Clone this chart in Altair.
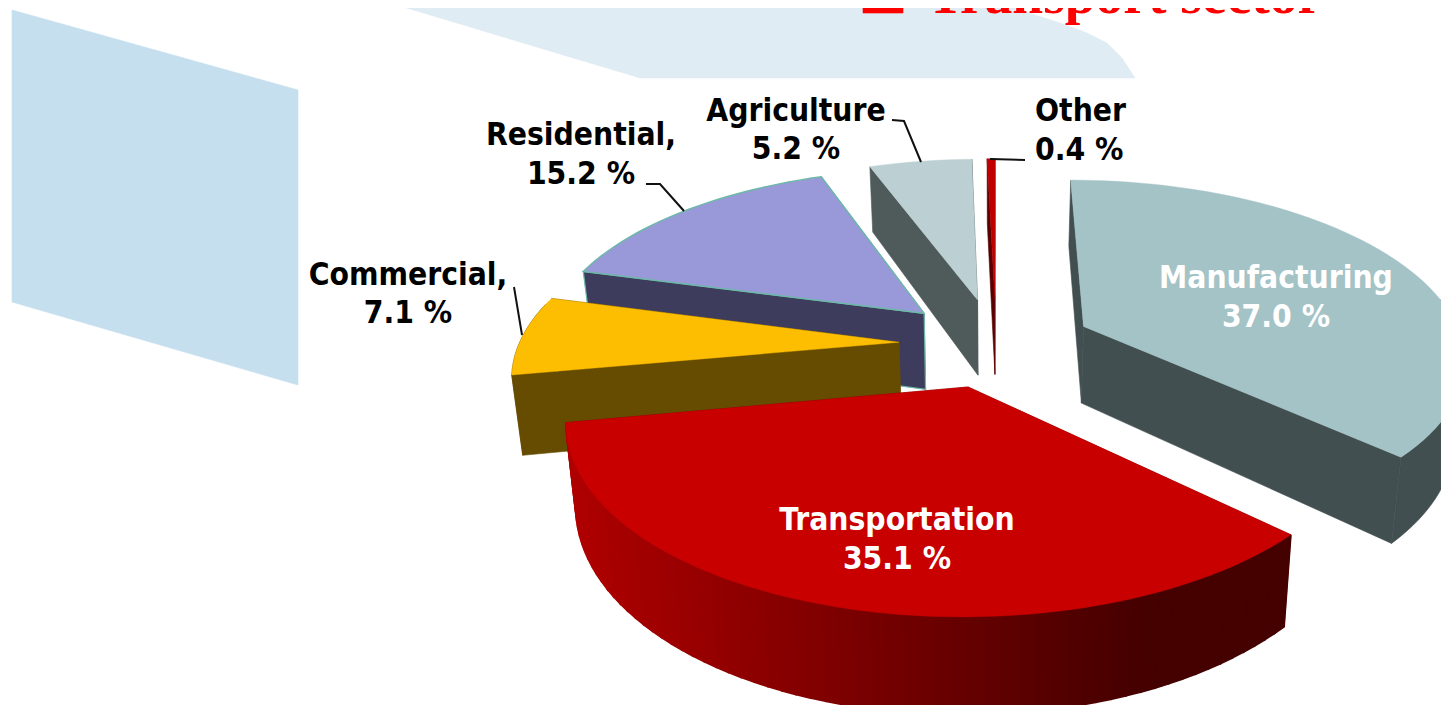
import math
import altair as alt
import pandas as pd

# --- values
categories = ["Manufacturing", "Transportation", "Commercial", "Residential", "Agriculture", "Other"]
shares = [37.0, 35.1, 7.1, 15.2, 5.2, 0.4]
top_colors = ["#A3C3C6", "#C80000", "#FDBD00", "#9999D9", "#BCCFD2", "#C00000"]
side_colors = ["#414F50", "#8A0000", "#664C00", "#3E3C5C", "#4F5A5A", "#5A0000"]
edge_colors = {"Residential": "#6DB8A8"}
explode = {"Manufacturing": 0.27, "Transportation": 0.25, "Commercial": 0.24, "Residential": 0.23, "Agriculture": 0.24, "Other": 0.24}
nudge = {"Manufacturing": (1, 5), "Transportation": (6, 3), "Commercial": (0, 4), "Residential": (-3, 0), "Agriculture": (4, 0), "Other": (6, 0)}
draw_order = ["Other", "Agriculture", "Manufacturing", "Residential", "Commercial", "Transportation"]

title_text = "Transport sector"

# --- view of the tilted pie: plane to page
CX, CY, RX, RY, PERSP, DEPTH, SHRINK = 990, 340, 380, 176, 0.164, 78, 0.977


def project(px, py, bottom=False, shift=(0, 0)):
    w = 1 + PERSP * py
    sx = CX + RX * px / w
    sy = CY - RY * py / w
    if bottom:
        sx = CX + (sx - CX) * SHRINK
        sy = sy + DEPTH / w
    return sx + shift[0], sy + shift[1]


# angles come from the shares
spans = {}
a = 0.0
for c, s in zip(categories, shares):
    spans[c] = (a, a + s * 3.6)
    a += s * 3.6

rows = []
pid = 0


def add_poly(pts, fill, stroke=None, width=0.6):
    global pid
    pid += 1
    pts = list(pts) + [pts[0]]
    for i, (x, y) in enumerate(pts):
        rows.append({"x": x, "y": y, "i": i, "pid": f"{pid:05d}", "fill": fill, "stroke": stroke or fill, "sw": width})


def lerp_hex(a, b, t):
    ca = [int(a[i:i + 2], 16) for i in (1, 3, 5)]
    cb = [int(b[i:i + 2], 16) for i in (1, 3, 5)]
    return "#" + "".join(f"{round(p + (q - p) * t):02X}" for p, q in zip(ca, cb))


# decoration behind the pie
add_poly([(12, 10), (298, 90), (298, 385), (12, 302)], "#C5DFEF")
add_poly([(380, 0), (640, 78), (1135, 78), (1122, 58), (1107, 43), (1085, 32), (1057, 22), (1020, 10), (1007, 0)], "#E0ECF4")
add_poly([(863, 0), (903, 0), (903, 13), (863, 13)], "#FF0000")

for name in draw_order:
    k = categories.index(name)
    a0, a1 = spans[name]
    mid = math.radians((a0 + a1) / 2)
    ox, oy = explode[name] * math.sin(mid), explode[name] * math.cos(mid)
    sh = nudge[name]
    n = max(4, int((a1 - a0) / 2))
    rim = []
    angles = []
    for j in range(n + 1):
        th = a0 + (a1 - a0) * j / n
        angles.append(th)
        rim.append((ox + math.sin(math.radians(th)), oy + math.cos(math.radians(th))))
    tip = (ox, oy)
    side = side_colors[k]
    edge = edge_colors.get(name)

    def P(p, bottom=False):
        return project(p[0], p[1], bottom, sh)

    # radial walls
    for p, st in ((rim[-1], None), (rim[0], edge)):
        add_poly([P(tip), P(p), P(p, True), P(tip, True)], side, st, 1.2 if st else 0.6)
    # outer rim: only the part that faces the viewer
    front = [j for j in range(n + 1) if 80 <= angles[j] <= 285]
    if name == "Transportation":
        # shaded in vertical bands, darker to the right
        for j in front[:-1]:
            p, q = rim[j], rim[j + 1]
            xc = P(p)[0]
            t = min(1.0, max(0.0, (1150 - xc) / 580))
            add_poly([P(p), P(q), P(q, True), P(p, True)], lerp_hex("#450000", "#AF0000", t), None, 1.6)
    elif len(front) > 1:
        top_edge = [P(rim[j]) for j in front]
        low_edge = [P(rim[j], True) for j in reversed(front)]
        add_poly(top_edge + low_edge, side)
    # top face
    add_poly([P(tip)] + [P(p) for p in rim], top_colors[k], edge, 1.5 if edge else 0.4)

polys = pd.DataFrame(rows)

leaders = [
    [(892, 120), (904, 121), (921, 162)],
    [(646, 184), (660, 184), (684, 211)],
    [(514, 287), (522, 335)],
    [(1025, 160), (990, 159)],
]
leader_rows = [{"x": x, "y": y, "i": i, "g": f"{g}"} for g, pts in enumerate(leaders) for i, (x, y) in enumerate(pts)]

labels = [
    ("Agriculture", 796, 121, "center", "#000000"),
    ("5.2 %", 796, 159, "center", "#000000"),
    ("Residential,", 581, 145, "center", "#000000"),
    ("15.2 %", 581, 184, "center", "#000000"),
    ("Commercial,", 408, 285, "center", "#000000"),
    ("7.1 %", 408, 323, "center", "#000000"),
    ("Other", 1035, 121, "left", "#000000"),
    ("0.4 %", 1035, 160, "left", "#000000"),
    ("Manufacturing", 1276, 288, "center", "#FFFFFF"),
    ("37.0 %", 1276, 327, "center", "#FFFFFF"),
    ("Transportation", 897, 530, "center", "#FFFFFF"),
    ("35.1 %", 897, 569, "center", "#FFFFFF"),
]
label_df = pd.DataFrame(labels, columns=["text", "x", "y", "align", "color"])

xs = alt.Scale(domain=[8, 1441], range=[0, 1433])
ys = alt.Scale(domain=[8, 705], range=[0, 697])
X = alt.X("x:Q", scale=xs, axis=None)
Y = alt.Y("y:Q", scale=ys, axis=None)

poly_layer = alt.Chart(polys).mark_line(filled=True, interpolate="linear", clip=True).encode(
    x=X, y=Y, detail="pid:N", order="i:Q",
    fill=alt.Fill("fill:N", scale=None),
    stroke=alt.Stroke("stroke:N", scale=None),
    strokeWidth=alt.StrokeWidth("sw:Q", scale=None),
)
leader_layer = alt.Chart(pd.DataFrame(leader_rows)).mark_line(color="#111111", strokeWidth=2).encode(
    x=X, y=Y, detail="g:N", order="i:Q"
)


def text_layer(align):
    d = label_df[label_df["align"] == align]
    return alt.Chart(d).mark_text(align=align, baseline="alphabetic", font="DejaVu Sans Condensed", fontWeight="bold", fontSize=31.5).encode(
        x=X, y=Y, text="text:N", color=alt.Color("color:N", scale=None)
    )


title_layer = alt.Chart(pd.DataFrame([{"text": title_text, "x": 927, "y": 13}])).mark_text(
    align="left", baseline="alphabetic", font="Liberation Serif", fontWeight="bold", fontSize=55.5, color="#FF0000"
).encode(x=X, y=Y, text="text:N")

chart = alt.layer(poly_layer, leader_layer, text_layer("center"), text_layer("left"), title_layer).properties(
    width=1433, height=697, padding=0, autosize=alt.AutoSizeParams(type="none"),
    background="#FFFFFF"
).configure_view(stroke=None)

chart.save("out.html", embed_options={"renderer": "svg", "actions": False})
